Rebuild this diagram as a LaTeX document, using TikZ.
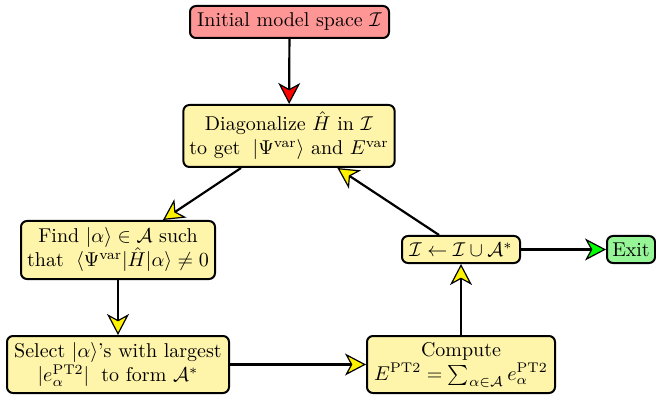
\documentclass[tikz,border=0pt]{standalone}
\usetikzlibrary{arrows.meta}
\definecolor{boxyellow}{RGB}{255,245,170}
\definecolor{boxred}{RGB}{255,150,150}
\definecolor{boxgreen}{RGB}{150,245,150}
\begin{document}
\begin{tikzpicture}[x=1pt,y=1pt,
  box/.style={draw=black, line width=1pt, rounded corners=3pt, fill=boxyellow, align=center, inner xsep=3pt, inner ysep=2pt},
  conn/.style={line width=1.1pt, draw=black},
  tipy/.style={-{Stealth[length=10.5pt,width=11pt,inset=3pt,fill=yellow,line width=0.6pt]}},
  tipr/.style={-{Stealth[length=10.5pt,width=11pt,inset=3pt,fill=red,line width=0.6pt]}},
  tipg/.style={-{Stealth[length=10.5pt,width=11pt,inset=3pt,fill=green,line width=0.6pt]}}]
\useasboundingbox (0,0) rectangle (328,200.5);
\node[box, fill=boxred, minimum width=99.5pt, minimum height=16pt] (init) at (144.75,189.5) {Initial model space $\mathcal{I}$};
\node[box, minimum width=105pt, minimum height=31pt] (diag) at (144.5,132.5) {Diagonalize $\hat{H}$ in $\mathcal{I}$\\ to get $\;|\Psi^{\mathrm{var}}\rangle$ and $E^{\mathrm{var}}$};
\node[box, minimum width=97pt, minimum height=29pt] (find) at (59,75.5) {Find $|\alpha\rangle \in \mathcal{A}$ such\\ that $\;\langle\Psi^{\mathrm{var}}|\hat{H}|\alpha\rangle \neq 0$};
\node[box, minimum width=111pt, minimum height=28.5pt] (select) at (59,18.25) {Select $|\alpha\rangle$'s with largest\\ $|e_\alpha^{\mathrm{PT2}}|\;$ to form $\mathcal{A}^*$};
\node[box, minimum width=94pt, minimum height=28.5pt] (comp) at (230.5,18.25) {Compute\\ $E^{\mathrm{PT2}} = \sum_{\alpha\in\mathcal{A}} e_\alpha^{\mathrm{PT2}}$};
\node[box, minimum width=59pt, minimum height=13.5pt] (upd) at (230.5,75.75) {$\mathcal{I} \leftarrow \mathcal{I} \cup \mathcal{A}^*$};
\node[box, fill=boxgreen, minimum width=24pt, minimum height=13.5pt, inner xsep=1.5pt] (exit) at (315.5,75.75) {Exit};
\draw[conn, tipr] (init) -- (diag);
\draw[conn, tipy] (diag) -- (find);
\draw[conn, tipy] (find) -- (select);
\draw[conn, tipy] (select) -- (comp);
\draw[conn, tipy] (comp) -- (upd);
\draw[conn, tipy] (upd) -- (diag);
\draw[conn, tipg] (upd) -- (exit);
\end{tikzpicture}
\end{document}
